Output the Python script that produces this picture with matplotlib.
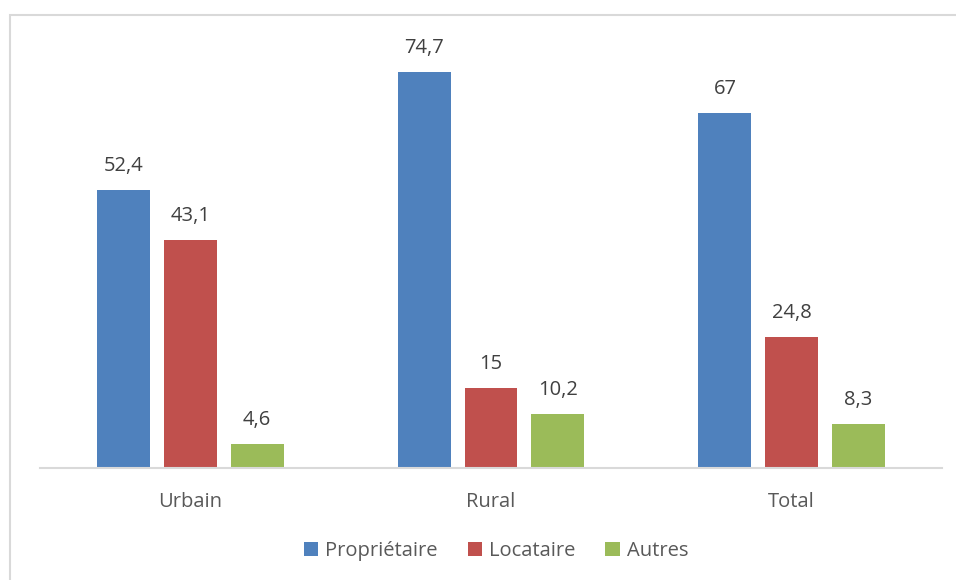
import matplotlib.pyplot as plt
from matplotlib.patches import Rectangle
import numpy as np

# Données
categories = ["Urbain", "Rural", "Total"]
proprietaire = [52.4, 74.7, 67]
locataire = [43.1, 15, 24.8]
autres = [4.6, 10.2, 8.3]
series_names = ["Propriétaire", "Locataire", "Autres"]
colors = ["#4f81bd", "#c0504d", "#9bbb59"]

plt.rcParams['font.family'] = ['Open Sans', 'DejaVu Sans']

W, H = 956, 580
fig = plt.figure(figsize=(W / 100, H / 100), dpi=100)

# zone de tracé en pixels
ax_left, ax_right, ax_base = 40, 942, 468
ymax = 80
px_per_unit = (468 - 72) / 74.7
ax_h = ymax * px_per_unit
ax = fig.add_axes([ax_left / W, (H - ax_base) / H, (ax_right - ax_left) / W, ax_h / H])

x = np.arange(len(categories))
width = 0.176
step = 0.222
fs = 14.5

for i, (vals, name, c) in enumerate(zip([proprietaire, locataire, autres], series_names, colors)):
    pos = x + (i - 1) * step
    bars = ax.bar(pos, vals, width, color=c, label=name)
    for b, v in zip(bars, vals):
        txt = f"{v:g}".replace(".", ",")
        ax.annotate(txt, (b.get_x() + b.get_width() / 2, v), xytext=(0, 14),
                    textcoords="offset pixels", ha="center", va="bottom",
                    fontsize=fs, color="#404040")

ax.set_xlim(-0.5, 2.5)
ax.set_ylim(0, ymax)
ax.set_xticks(x)
ax.set_xticklabels(categories, fontsize=fs, color="#595959")
ax.tick_params(axis="x", length=0, pad=17)
ax.set_yticks([])
for s in ["top", "right", "left"]:
    ax.spines[s].set_visible(False)
ax.spines["bottom"].set_color("#d9d9d9")
ax.spines["bottom"].set_linewidth(1.5)

leg = fig.legend(loc="center", bbox_to_anchor=(496 / W, 1 - 551 / H), ncol=3, frameon=False,
                 fontsize=fs, handlelength=0.7, handleheight=0.7, handletextpad=0.35,
                 columnspacing=1.5)
for t in leg.get_texts():
    t.set_color("#595959")

# cadre du graphique
fig.patches.append(Rectangle((10 / W, -0.1), 1.1, 1 - 14.5 / H + 0.1, transform=fig.transFigure,
                             fill=False, edgecolor="#d9d9d9", linewidth=1.5, clip_on=False))

fig.savefig("out.png", dpi=100, facecolor="white")
